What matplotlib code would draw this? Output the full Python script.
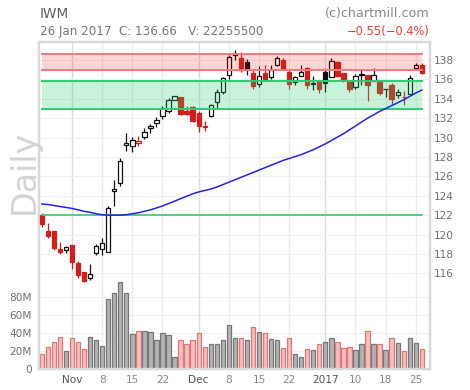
import matplotlib
matplotlib.use("Agg")
import matplotlib.pyplot as plt
import numpy as np

# ---------------- data ----------------
opens = [122.0, 120.4, 120.4, 118.5, 118.4, 118.9, 117.1, 116.1, 115.5, 118.1,
         118.5, 118.2, 124.5, 125.3, 129.2, 129.1, 129.4, 130.1, 131.0, 131.55,
         132.2, 132.75, 133.9, 134.2, 132.75, 133.15, 132.5, 131.18, 132.2, 133.65,
         134.7, 136.5, 138.55, 138.2, 137.8, 136.65, 135.55, 136.65, 136.3, 137.5,
         138.05, 136.8, 135.75, 136.4, 137.15, 135.6, 135.8, 136.75, 136.3, 137.8,
         136.65, 135.8, 135.2, 136.55, 136.5, 135.8, 135.8, 135.05, 135.4, 134.4,
         134.2, 134.45, 137.2, 137.5]
highs = [122.2, 121.2, 120.4, 119.2, 118.8, 118.95, 117.3, 116.1, 117.0, 119.05,
         119.7, 122.9, 125.6, 127.9, 130.45, 130.05, 130.15, 130.95, 131.45, 132.15,
         133.25, 134.05, 134.3, 134.2, 133.25, 133.25, 132.75, 131.7, 133.5, 135.0,
         136.3, 138.5, 139.0, 138.8, 138.15, 136.95, 137.4, 137.45, 137.45, 138.4,
         138.2, 136.95, 136.4, 137.45, 137.3, 136.4, 135.8, 137.05, 138.2, 137.95,
         136.65, 135.8, 136.6, 136.95, 136.5, 137.2, 135.8, 135.05, 135.65, 135.0,
         134.8, 136.5, 137.7, 137.7]
lows = [120.8, 119.7, 118.4, 118.0, 118.1, 116.45, 115.55, 115.1, 115.3, 117.9,
        117.9, 118.2, 122.9, 125.0, 128.65, 128.55, 129.1, 129.9, 130.5, 131.05,
        131.9, 132.5, 133.9, 132.3, 132.3, 131.65, 130.55, 130.7, 132.15, 133.0,
        134.45, 136.05, 138.05, 136.8, 136.5, 135.0, 135.2, 135.85, 136.05, 137.35,
        137.15, 135.05, 135.45, 136.4, 135.05, 134.95, 134.65, 134.7, 136.25, 136.25,
        135.75, 134.7, 135.05, 135.4, 133.75, 135.8, 134.35, 134.2, 133.5, 134.1,
        133.4, 134.35, 137.2, 136.6]
closes = [121.1, 119.9, 118.6, 118.2, 118.7, 117.2, 115.8, 115.2, 115.9, 118.8,
          119.1, 122.7, 124.7, 127.6, 129.45, 129.75, 129.65, 130.55, 131.2, 131.8,
          133.1, 133.85, 134.25, 132.45, 132.4, 131.7, 131.2, 131.12, 133.35, 134.75,
          136.1, 138.3, 138.6, 137.0, 137.05, 135.3, 136.4, 136.0, 137.0, 138.2,
          137.2, 135.55, 136.3, 136.8, 135.45, 135.55, 135.05, 135.65, 137.95, 136.4,
          135.9, 135.0, 136.4, 136.5, 135.45, 136.5, 134.65, 135.0, 133.95, 134.7,
          134.15, 136.1, 137.45, 136.66]
volumes_m = [16.7, 24.4, 30.0, 35.6, 20.0, 34.4, 30.0, 22.2, 35.6, 32.2,
             25.6, 77.8, 84.4, 96.7, 84.4, 38.9, 42.2, 42.2, 41.1, 32.2,
             40.0, 37.8, 13.3, 32.2, 27.8, 32.2, 40.0, 24.4, 27.8, 27.8,
             32.2, 48.9, 34.4, 34.4, 32.2, 46.7, 41.1, 40.0, 33.3, 32.2,
             23.3, 34.4, 16.7, 13.3, 22.2, 21.1, 27.8, 30.0, 34.4, 30.0,
             23.3, 24.4, 21.1, 27.8, 42.2, 27.8, 27.8, 21.1, 34.4, 28.9,
             20.0, 34.4, 28.9, 22.2]
ma50 = [123.15, 123.1, 123.0, 122.9, 122.8, 122.7, 122.55, 122.4, 122.3, 122.15,
        122.05, 122.0, 122.0, 122.0, 122.05, 122.15, 122.25, 122.4, 122.55, 122.75,
        122.95, 123.2, 123.45, 123.7, 123.95, 124.2, 124.4, 124.55, 124.7, 124.9,
        125.15, 125.4, 125.65, 125.9, 126.15, 126.4, 126.65, 126.9, 127.15, 127.4,
        127.65, 127.85, 128.05, 128.25, 128.5, 128.75, 129.05, 129.35, 129.7, 130.05,
        130.4, 130.8, 131.2, 131.6, 132.0, 132.35, 132.7, 133.0, 133.3, 133.6,
        133.9, 134.25, 134.6, 134.9]
tick_idx = [5, 10, 15, 20, 26, 31, 36, 41, 47, 52, 57, 62]
tick_labels = ['Nov', '8', '15', '22', 'Dec', '8', '15', '22', '2017', '10', '18', '25']
month_labels = ['Nov', 'Dec', '2017']
price_ticks = [116, 118, 120, 122, 124, 126, 128, 130, 132, 134, 136, 138]
vol_ticks_m = [0, 20, 40, 60, 80]
resistance_band = (137.0, 138.6)
support_band = (133.0, 135.8)
support_line = 122.0

# ---------------- figure ----------------
W, H = 470, 390
fig = plt.figure(figsize=(W / 100, H / 100), dpi=100)
L, R, T, B = 39, 430, 42, 369
axv = fig.add_axes([L / W, 1 - B / H, (R - L) / W, (B - T) / H])
axp = axv.twinx()

n = len(closes)
x = np.arange(n)
xlim = (-0.48, 64.36)
axv.set_xlim(*xlim)
axp.set_xlim(*xlim)
axp.set_ylim(106.14, 139.86)
axv.set_ylim(0, 363.3)

RED = '#d41e1e'
BLACK = '#111111'

prev = [opens[0]] + closes[:-1]
down = [closes[i] < prev[i] for i in range(n)]

# volume bars
vcol = ['#f3bfbf' if d else '#b3b3b3' for d in down]
vedge = ['#e07878' if d else '#777777' for d in down]
axv.bar(x, volumes_m, width=0.72, color=vcol, edgecolor=vedge, linewidth=0.9, zorder=2)

# grid
for v in vol_ticks_m[1:]:
    axv.axhline(v, color='#f0f0f0', lw=0.8, zorder=0)
for p in price_ticks:
    axp.axhline(p, color='#f0f0f0', lw=0.8, zorder=0)
for ti, lab in zip(tick_idx, tick_labels):
    c = '#dcdcdc' if lab in month_labels else '#ececec'
    axv.axvline(ti, color=c, lw=1.0, zorder=0)

# candles
for i in range(n):
    o, h, l, c = opens[i], highs[i], lows[i], closes[i]
    col = RED if down[i] else BLACK
    axp.vlines(i, l, h, color=col, lw=0.9, zorder=3)
    lo, hi = min(o, c), max(o, c)
    ht = max(hi - lo, 0.06)
    face = 'white' if c > o else col
    axp.bar(i, ht, bottom=lo, width=0.72, color=face, edgecolor=col,
            linewidth=0.9, zorder=4)

# bands (translucent overlays above candles)
xb = [0, n - 1]
axp.fill_between(xb, resistance_band[0], resistance_band[1], color='#ff0000',
                 alpha=0.16, lw=0, zorder=5)
axp.fill_between(xb, support_band[0], support_band[1], color='#2ecc71',
                 alpha=0.25, lw=0, zorder=5)
for yv in resistance_band:
    axp.plot(xb, [yv, yv], color='#f07a7a', lw=1.4, zorder=6)
for yv in support_band:
    axp.plot(xb, [yv, yv], color='#2ecc71', lw=1.4, zorder=6)
axp.plot(xb, [support_line, support_line], color='#2ecc71', lw=1.2, zorder=6)

# moving average
axp.plot(x, ma50, color='#2323e6', lw=1.1, zorder=7)

# axes styling
for ax in (axv, axp):
    for s in ax.spines.values():
        s.set_color('#d9d9d9')
        s.set_linewidth(1.6)
axp.set_yticks(price_ticks)
axp.set_yticklabels([str(p) for p in price_ticks])
axp.tick_params(axis='y', length=0, pad=3, labelsize=7.6, labelcolor='#707070')
axv.set_yticks(vol_ticks_m)
axv.set_yticklabels(['0' if v == 0 else f'{v}M' for v in vol_ticks_m])
axv.tick_params(axis='y', length=0, pad=5, labelsize=7.6, labelcolor='#707070')
axv.set_xticks(tick_idx)
axv.set_xticklabels(tick_labels)
axv.tick_params(axis='x', length=0, pad=4, labelsize=7.6)
for lbl in axv.get_xticklabels():
    if lbl.get_text() in month_labels:
        lbl.set_color('#555555')
    else:
        lbl.set_color('#8a8a8a')
axp.tick_params(axis='x', length=0)

# texts
fig.text(40 / W, 1 - 14 / H, 'IWM', fontsize=9.8, color='#606060', va='center', ha='left')
fig.text(40 / W, 1 - 31 / H, '26 Jan 2017  C: 136.66   V: 22255500', fontsize=8.6,
         color='#777777', va='center', ha='left')
fig.text(430 / W, 1 - 14 / H, '(c)chartmill.com', fontsize=9.2, color='#888888',
         va='center', ha='right')
fig.text(430 / W, 1 - 31 / H, '\u22120.55(\u22120.4%)', fontsize=8.3, color='#f03a3a',
         va='center', ha='right')
fig.text(24 / W, 1 - 172 / H, 'Daily', fontsize=24, color='#d4d4d4', rotation=90,
         va='center', ha='center')

fig.savefig('out.png', dpi=100)
